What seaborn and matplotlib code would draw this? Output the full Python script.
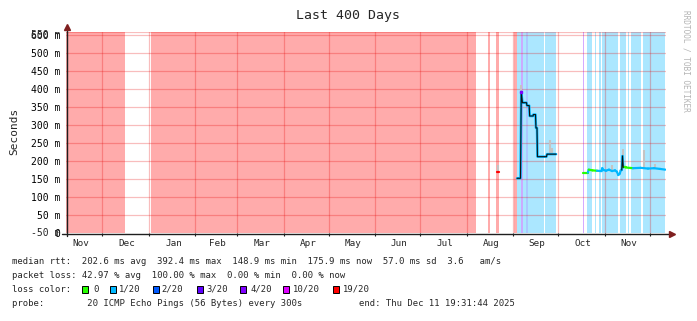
import numpy as np
import pandas as pd
import matplotlib
matplotlib.use("Agg")
import matplotlib.pyplot as plt
import seaborn as sns
from matplotlib.patches import Rectangle
from matplotlib.lines import Line2D
import matplotlib.transforms as mtransforms

sns.set_style("white")
plt.rcParams['font.family'] = ['DejaVu Sans Mono', 'DejaVu Sans']

# ---------------- data ----------------
start = pd.Timestamp("2024-11-06 19:31:44")
span_days = 400

y_ticks = [0, 50, 100, 150, 200, 250, 300, 350, 400, 450, 500, 550]
y_labels = ["0", "50 m", "100 m", "150 m", "200 m", "250 m", "300 m",
            "350 m", "400 m", "450 m", "500 m", "600 m"]
# rrdtool draws a second, overlapping label at the bottom and top ticks
y_extra_ticks = [0, 550]
y_extra_labels = ["-50 m", "550 m"]

month_starts = ["2024-12-01", "2025-01-01", "2025-02-01", "2025-03-01", "2025-04-01",
                "2025-05-01", "2025-06-01", "2025-07-01", "2025-08-01", "2025-09-01",
                "2025-10-01", "2025-11-01", "2025-12-01"]
month_label_starts = ["2024-11-01"] + month_starts[:-1]
month_labels = ["Nov", "Dec", "Jan", "Feb", "Mar", "Apr", "May", "Jun", "Jul",
                "Aug", "Sep", "Oct", "Nov"]

loss_levels = ["0", "1/20", "2/20", "3/20", "4/20", "10/20", "19/20"]
loss_colors = ["#26ff00", "#00b8ff", "#0059ff", "#5e00ff", "#7e00ff", "#dd00ff", "#ff0000"]

# loss background stripes (days since start)
loss_start = [0.0, 56.7, 281.3, 286.7, 298.9, 300.9, 303.1, 304.9, 306.7, 308.2, 319.3,
              344.7, 347.3, 352.7, 355.1, 357.3, 369.3, 374.5, 376.7, 384.5, 397.5]
loss_end = [39.3, 273.1, 282.7, 288.7, 300.9, 303.1, 304.9, 306.7, 308.2, 318.7, 326.7,
            345.4, 350.5, 353.3, 356.7, 368.2, 373.3, 375.3, 383.3, 397.1, 399.3]
loss_level = ["19/20", "19/20", "19/20", "19/20", "19/20", "1/20", "3/20", "1/20", "2/20",
              "1/20", "1/20", "4/20", "1/20", "1/20", "1/20", "1/20", "1/20", "1/20",
              "1/20", "1/20", "1/20"]

# median rtt (ms)
seg_a_day = [287.4, 288.6]
seg_a_ms = [169, 169]

seg_b_day = [300.7, 303.0, 303.5, 304.3, 307.0, 307.3, 308.8, 309.1, 311.4, 311.6,
             313.0, 313.3, 314.0, 314.3, 320.3, 320.7, 326.7]
seg_b_ms = [152, 152, 392, 362, 362, 354, 354, 325, 325, 329, 329, 292, 292, 212,
            212, 219, 219]

seg_c_day = [344.7, 347.9, 348.5, 351.0, 354.0, 357.0, 357.5, 358.3, 360.0, 362.0,
             364.0, 366.0, 367.3, 368.2, 369.2, 369.8, 370.5, 371.0, 371.5, 373.0,
             378.0, 383.0, 388.0, 392.0, 396.0, 399.5]
seg_c_ms = [168, 168, 176, 174, 173, 172, 180, 175, 173, 176, 172, 174, 170, 161,
            165, 174, 175, 214, 182, 182, 180, 181, 179, 180, 178, 176]
seg_c_loss = ["0", "1/20", "0", "0", "1/20", "1/20", "1/20", "1/20", "1/20", "1/20",
              "1/20", "1/20", "1/20", "1/20", "1/20", "1/20", "1/20", "1/20", "0", "0",
              "1/20", "1/20", "1/20", "1/20", "1/20", "1/20"]

# smoke (ms)
smoke_day = [288.0, 303.6, 322.7, 324.0, 364.0, 371.1, 385.3, 392.7]
smoke_lo = [169, 392, 219, 219, 174, 214, 180, 180]
smoke_hi = [190, 411, 258, 235, 188, 233, 231, 192]

stats_line1 = "median rtt:  202.6 ms avg  392.4 ms max  148.9 ms min  175.9 ms now  57.0 ms sd  3.6   am/s"
stats_line2 = "packet loss: 42.97 % avg  100.00 % max  0.00 % min  0.00 % now"
probe_line = "probe:        20 ICMP Echo Pings (56 Bytes) every 300s"
end_line = "end: Thu Dec 11 19:31:44 2025"

# ---------------- figure ----------------
W, H = 697, 321
fig = plt.figure(figsize=(W / 100, H / 100), dpi=100)
fig.patch.set_facecolor("white")

px_per_ms = 0.36
ax_l, ax_r, ax_b, ax_t = 66, 666, 233, 32
ax = fig.add_axes([ax_l / W, 1 - ax_b / H, (ax_r - ax_l) / W, (ax_b - ax_t) / H])
ax.set_facecolor("white")
ymax = (ax_b - ax_t) / px_per_ms
ax.set_xlim(0, span_days)
ax.set_ylim(0, ymax)
for s in ax.spines.values():
    s.set_visible(False)

def day_of(d):
    return (pd.Timestamp(d) - start) / pd.Timedelta(days=1)

color_of = dict(zip(loss_levels, loss_colors))

# loss background
for a, b, lv in zip(loss_start, loss_end, loss_level):
    ax.axvspan(a, b, color=color_of[lv], alpha=0.33, lw=0, zorder=1)

# grid
grid_kw = dict(color=(0.9, 0.0, 0.0), alpha=0.26, lw=0.9, zorder=2)
for yv in y_ticks[1:] + [ymax - 0.5]:
    ax.axhline(yv, **grid_kw)
for d in month_starts:
    ax.axvline(day_of(d), **grid_kw)

# smoke
ax.vlines(smoke_day, smoke_lo, smoke_hi, color="#c4c4c4", lw=1.5, zorder=3)

# median lines
sns.lineplot(x=seg_a_day, y=seg_a_ms, color=color_of["19/20"], lw=1.6, ax=ax,
             estimator=None, sort=False, zorder=4)
sns.lineplot(x=seg_b_day, y=seg_b_ms, color=color_of["1/20"], lw=1.8, ax=ax,
             estimator=None, sort=False, zorder=4)
sns.lineplot(x=seg_b_day, y=seg_b_ms, color="#111111", lw=0.8, ax=ax,
             estimator=None, sort=False, zorder=5)
for i in range(len(seg_c_day) - 1):
    sns.lineplot(x=seg_c_day[i:i + 2], y=seg_c_ms[i:i + 2],
                 color=color_of[seg_c_loss[i]], lw=1.6, ax=ax,
                 estimator=None, sort=False, zorder=4)
sns.lineplot(x=seg_c_day[16:19], y=seg_c_ms[16:19], color="#111111", lw=0.8, ax=ax,
             estimator=None, sort=False, zorder=5)
ax.plot([seg_b_day[2]], [seg_b_ms[2]], marker="s", ms=1.8, color=color_of["4/20"],
        lw=0, zorder=6)

# ticks
ax.set_yticks(y_ticks)
ax.set_yticklabels(y_labels)
ax.tick_params(axis="y", length=0, pad=4.3, labelsize=7.0, colors="black")
trans = mtransforms.blended_transform_factory(ax.transAxes, ax.transData)
for yv, lab in zip(y_extra_ticks, y_extra_labels):
    ax.text(-6 / (ax_r - ax_l), yv, lab, transform=trans, ha="right", va="center",
            fontsize=7.0)
ax.set_xticks([day_of(d) for d in month_starts])
ax.set_xticklabels([])
mids = [day_of(pd.Timestamp(d) + pd.Timedelta(days=pd.Timestamp(d).days_in_month / 2 + 1))
        for d in month_label_starts]
ax.set_xticks(mids, minor=True)
ax.set_xticklabels(month_labels, minor=True)
ax.tick_params(axis="x", which="major", length=2, width=0.8, color="#1f1f1f", bottom=True)
ax.tick_params(axis="x", which="minor", length=0, pad=4.0, labelsize=6.7)
ax.set_xlabel("")
ax.set_ylabel("")

# axes lines and arrows (figure pixel coords)
def fx(x):
    return x / W

def fy(y):
    return 1 - y / H

fig.add_artist(Line2D([fx(62), fx(670)], [fy(233.5), fy(233.5)], color="#1f1f1f", lw=1.0))
fig.add_artist(Line2D([fx(66.5), fx(66.5)], [fy(236), fy(28)], color="#1f1f1f", lw=1.0))
fig.add_artist(Line2D([fx(672)], [fy(233.5)], marker=">", ms=4, color="#7f1f1f", lw=0))
fig.add_artist(Line2D([fx(66.5)], [fy(27)], marker="^", ms=4, color="#7f1f1f", lw=0))

# texts
fig.text(fx(348.5), fy(16), "Last 400 Days", ha="center", va="center", fontsize=9.5)
fig.text(fx(14), fy(131), "Seconds", rotation=90, ha="center", va="center", fontsize=8)
fig.text(fx(686), fy(61), "RRDTOOL / TOBI OETIKER", rotation=270, ha="center",
         va="center", fontsize=5.6, color="#b4b4b4")

fs = 6.4
fig.text(fx(12), fy(261), stats_line1, ha="left", va="center", fontsize=fs)
fig.text(fx(12), fy(275.5), stats_line2, ha="left", va="center", fontsize=fs)
fig.text(fx(12), fy(289.5), "loss color:", ha="left", va="center", fontsize=fs)
box_x = [82, 110, 153, 197, 240, 283, 333]
lab_x = [93, 118.5, 161.7, 206.7, 250, 293, 343]
for bx, lx, lv, c in zip(box_x, lab_x, loss_levels, loss_colors):
    fig.add_artist(Rectangle((fx(bx), fy(293)), 6 / W, 7 / H, facecolor=c,
                             edgecolor="black", lw=0.7, transform=fig.transFigure))
    fig.text(fx(lx), fy(289.5), lv, ha="left", va="center", fontsize=fs)
fig.text(fx(12), fy(303.5), probe_line, ha="left", va="center", fontsize=fs)
fig.text(fx(359), fy(303.5), end_line, ha="left", va="center", fontsize=fs)

fig.savefig("out.png", dpi=100, facecolor="white")
